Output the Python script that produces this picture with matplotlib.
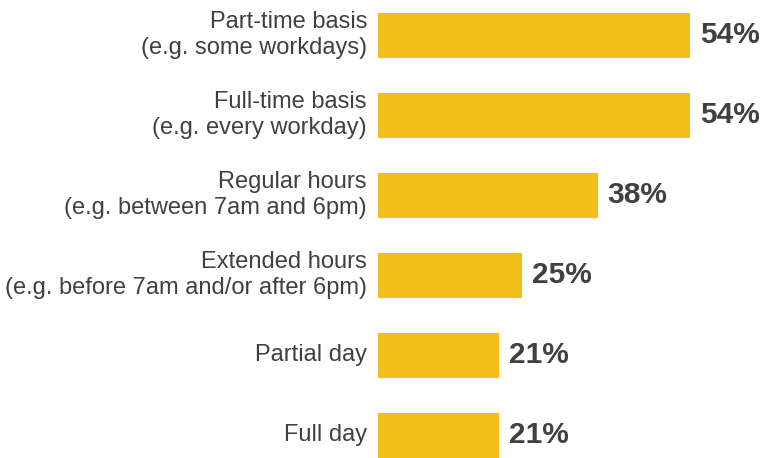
import matplotlib
matplotlib.use("Agg")
import matplotlib.pyplot as plt

categories = [
    "Part-time basis\n(e.g. some workdays)",
    "Full-time basis\n(e.g. every workday)",
    "Regular hours\n(e.g. between 7am and 6pm)",
    "Extended hours\n(e.g. before 7am and/or after 6pm)",
    "Partial day",
    "Full day",
]
values = [54, 54, 38, 25, 21, 21]
value_labels = ["54%", "54%", "38%", "25%", "21%", "21%"]

plt.rcParams['font.family'] = ['Liberation Sans', 'DejaVu Sans']

W, H = 761, 458
fig = plt.figure(figsize=(W / 100, H / 100), dpi=100)
ax = fig.add_axes([378 / W, 0, 1 - 378 / W, 1])

ypos = list(range(len(values)))
ax.barh(ypos, values, height=45 / 80, color="#F2BE1A", left=0)

px_per_unit = 312 / 54
ax.set_xlim(0, (W - 378) / px_per_unit)
ax.set_ylim((H - 35) / 80, -35 / 80)

for y, v, lab, cat in zip(ypos, values, value_labels, categories):
    ax.text(v + 10 / px_per_unit, y, lab, va="center", ha="left",
            fontsize=21.5, fontweight="bold", color="#404040")
    ax.text(-11 / px_per_unit, y, cat, va="center", ha="right",
            fontsize=17, color="#404040", linespacing=1.27, clip_on=False)

ax.axis("off")
fig.savefig("out.png", dpi=100)
